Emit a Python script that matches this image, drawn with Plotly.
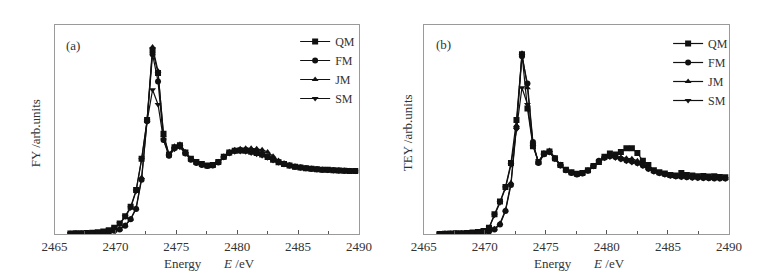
import plotly.graph_objects as go

# Shared energy grid (eV)
energy = [2466.30, 2466.75, 2467.20, 2467.65, 2468.10, 2468.55, 2469.00, 2469.45, 2469.90, 2470.35,
          2470.80, 2471.25, 2471.70, 2472.15, 2472.60, 2473.05, 2473.50, 2473.95, 2474.40, 2474.85,
          2475.30, 2475.75, 2476.20, 2476.65, 2477.10, 2477.55, 2478.00, 2478.45, 2478.90, 2479.35,
          2479.80, 2480.25, 2480.70, 2481.15, 2481.60, 2482.05, 2482.50, 2482.95, 2483.40, 2483.85,
          2484.30, 2484.75, 2485.20, 2485.65, 2486.10, 2486.55, 2487.00, 2487.45, 2487.90, 2488.35,
          2488.80, 2489.25, 2489.70]

series_names = ["QM", "FM", "JM", "SM"]

# (a) FY
fy_qm = [0.002, 0.003, 0.004, 0.005, 0.006, 0.008, 0.012, 0.018, 0.030, 0.050,
         0.085, 0.130, 0.210, 0.360, 0.545, 0.880, 0.770, 0.480, 0.380, 0.415,
         0.425, 0.390, 0.360, 0.345, 0.335, 0.328, 0.330, 0.345, 0.370, 0.390,
         0.398, 0.400, 0.398, 0.393, 0.388, 0.380, 0.368, 0.355, 0.343, 0.335,
         0.328, 0.322, 0.318, 0.315, 0.312, 0.310, 0.308, 0.307, 0.305, 0.304,
         0.303, 0.302, 0.301]
fy_fm = [0.001, 0.002, 0.002, 0.003, 0.004, 0.005, 0.007, 0.010, 0.015, 0.022,
         0.040, 0.070, 0.120, 0.260, 0.540, 0.860, 0.730, 0.450, 0.375, 0.410,
         0.420, 0.385, 0.355, 0.340, 0.330, 0.325, 0.328, 0.342, 0.368, 0.388,
         0.398, 0.402, 0.402, 0.398, 0.392, 0.384, 0.372, 0.358, 0.345, 0.336,
         0.328, 0.322, 0.318, 0.315, 0.312, 0.310, 0.308, 0.306, 0.305, 0.304,
         0.303, 0.302, 0.301]
fy_jm = [0.001, 0.002, 0.002, 0.003, 0.004, 0.005, 0.007, 0.010, 0.016, 0.024,
         0.042, 0.072, 0.125, 0.270, 0.545, 0.895, 0.780, 0.470, 0.380, 0.420,
         0.430, 0.392, 0.360, 0.343, 0.333, 0.327, 0.330, 0.346, 0.372, 0.393,
         0.403, 0.408, 0.410, 0.410, 0.408, 0.403, 0.392, 0.372, 0.352, 0.339,
         0.330, 0.324, 0.319, 0.316, 0.313, 0.311, 0.309, 0.307, 0.306, 0.305,
         0.304, 0.303, 0.302]
fy_sm = [0.002, 0.003, 0.004, 0.005, 0.006, 0.008, 0.012, 0.018, 0.028, 0.048,
         0.082, 0.125, 0.205, 0.355, 0.540, 0.690, 0.620, 0.450, 0.375, 0.405,
         0.415, 0.385, 0.355, 0.340, 0.330, 0.325, 0.328, 0.343, 0.366, 0.385,
         0.393, 0.395, 0.393, 0.388, 0.382, 0.375, 0.365, 0.352, 0.341, 0.333,
         0.326, 0.321, 0.317, 0.314, 0.311, 0.309, 0.307, 0.305, 0.304, 0.303,
         0.302, 0.301, 0.300]

# (b) TEY
tey_qm = [0.000, 0.001, 0.002, 0.003, 0.004, 0.005, 0.007, 0.010, 0.014, 0.030,
          0.095, 0.155, 0.225, 0.340, 0.545, 0.860, 0.600, 0.420, 0.345, 0.385,
          0.395, 0.362, 0.330, 0.308, 0.295, 0.288, 0.292, 0.305, 0.325, 0.345,
          0.370, 0.385, 0.380, 0.392, 0.410, 0.410, 0.388, 0.350, 0.330, 0.305,
          0.295, 0.290, 0.282, 0.280, 0.292, 0.282, 0.280, 0.276, 0.278, 0.275,
          0.276, 0.273, 0.272]
tey_fm = [0.000, 0.001, 0.001, 0.002, 0.002, 0.003, 0.004, 0.006, 0.008, 0.012,
          0.022, 0.045, 0.110, 0.235, 0.510, 0.850, 0.720, 0.440, 0.340, 0.382,
          0.392, 0.360, 0.328, 0.305, 0.292, 0.285, 0.290, 0.303, 0.325, 0.350,
          0.365, 0.372, 0.368, 0.360, 0.352, 0.347, 0.340, 0.328, 0.312, 0.300,
          0.292, 0.286, 0.280, 0.276, 0.274, 0.272, 0.270, 0.269, 0.268, 0.267,
          0.266, 0.266, 0.265]
tey_jm = [0.001, 0.002, 0.002, 0.003, 0.003, 0.004, 0.005, 0.007, 0.010, 0.014,
          0.025, 0.050, 0.115, 0.245, 0.520, 0.865, 0.700, 0.430, 0.345, 0.388,
          0.400, 0.365, 0.332, 0.307, 0.294, 0.287, 0.291, 0.305, 0.327, 0.350,
          0.368, 0.375, 0.372, 0.367, 0.362, 0.360, 0.350, 0.332, 0.315, 0.302,
          0.293, 0.287, 0.281, 0.277, 0.275, 0.273, 0.271, 0.270, 0.269, 0.268,
          0.267, 0.266, 0.266]
tey_sm = [0.000, 0.001, 0.002, 0.003, 0.004, 0.005, 0.007, 0.010, 0.014, 0.028,
          0.090, 0.150, 0.220, 0.330, 0.500, 0.700, 0.620, 0.430, 0.340, 0.380,
          0.390, 0.358, 0.327, 0.305, 0.292, 0.285, 0.289, 0.302, 0.323, 0.345,
          0.362, 0.368, 0.364, 0.356, 0.348, 0.342, 0.336, 0.325, 0.310, 0.298,
          0.290, 0.284, 0.278, 0.274, 0.272, 0.270, 0.268, 0.267, 0.266, 0.265,
          0.265, 0.264, 0.264]

x_ticks = [2465, 2470, 2475, 2480, 2485, 2490]

fy_data = [fy_qm, fy_fm, fy_jm, fy_sm]
tey_data = [tey_qm, tey_fm, tey_jm, tey_sm]
symbols = ["square", "circle", "triangle-up", "triangle-down"]

FONT = "Liberation Serif, Times New Roman, serif"
TXT = "#333333"
FRAME = "#9a9a9a"

fig = go.Figure()
for name, ys, sym in zip(series_names, fy_data, symbols):
    fig.add_trace(go.Scatter(x=energy, y=ys, name=name, mode="lines+markers",
                             line=dict(color="#111111", width=1.2),
                             marker=dict(symbol=sym, size=6, color="#111111"),
                             xaxis="x", yaxis="y", legend="legend"))
for name, ys, sym in zip(series_names, tey_data, symbols):
    fig.add_trace(go.Scatter(x=energy, y=ys, name=name, mode="lines+markers",
                             line=dict(color="#111111", width=1.2),
                             marker=dict(symbol=sym, size=6, color="#111111"),
                             xaxis="x2", yaxis="y2", legend="legend2"))

xcommon = dict(range=[2465, 2490], tickvals=x_ticks, ticks="inside", ticklen=4,
               tickcolor="#555555", showline=True, linecolor=FRAME, linewidth=1,
               mirror=True, showgrid=False, zeroline=False,
               tickfont=dict(family=FONT, size=13, color=TXT),
               minor=dict(dtick=2.5, tick0=2465, ticks="inside", ticklen=3, tickcolor="#555555"))
ycommon = dict(range=[0, 1], showticklabels=False, ticks="", showline=True,
               linecolor=FRAME, linewidth=1, mirror=True, showgrid=False, zeroline=False)

W, H = 770, 278
y_dom = [1 - 234 / H, 1 - 25 / H]
fig.update_layout(
    width=W, height=H,
    margin=dict(l=0, r=0, t=0, b=0),
    paper_bgcolor="white", plot_bgcolor="white",
    xaxis=dict(domain=[43 / W, 358 / W], anchor="y", **xcommon),
    yaxis=dict(domain=y_dom, anchor="x", **ycommon),
    xaxis2=dict(domain=[425 / W, 741 / W], anchor="y2", **xcommon),
    yaxis2=dict(domain=y_dom, anchor="x2", **ycommon),
    legend=dict(x=292 / W, y=1 - 27 / H, xanchor="left", yanchor="top",
                bgcolor="rgba(0,0,0,0)", font=dict(family=FONT, size=12, color=TXT),
                itemwidth=30, tracegroupgap=0),
    legend2=dict(x=678 / W, y=1 - 29 / H, xanchor="left", yanchor="top",
                 bgcolor="rgba(0,0,0,0)", font=dict(family=FONT, size=12, color=TXT),
                 itemwidth=30, tracegroupgap=0),
    showlegend=True,
)

gap = "\u00a0" * 7
annots = [
    dict(x=62 / W, y=1 - 45 / H, text="(a)"),
    dict(x=446 / W, y=1 - 44 / H, text="(b)"),
    dict(x=203 / W, y=1 - 263 / H, text="Energy" + gap + "<i>E</i> /eV"),
    dict(x=586 / W, y=1 - 263 / H, text="Energy" + gap + "<i>E</i> /eV"),
    dict(x=23 / W, y=1 - 133 / H, text="FY /arb.units", textangle=-90),
    dict(x=408 / W, y=1 - 133 / H, text="TEY /arb.units", textangle=-90),
]
for a in annots:
    fig.add_annotation(xref="paper", yref="paper", showarrow=False,
                       xanchor="center", yanchor="middle",
                       font=dict(family=FONT, size=13, color=TXT), **a)

fig.write_html("out.html", config={"displayModeBar": False},
               post_script="document.body.style.margin='0';document.body.style.overflow='hidden';")
